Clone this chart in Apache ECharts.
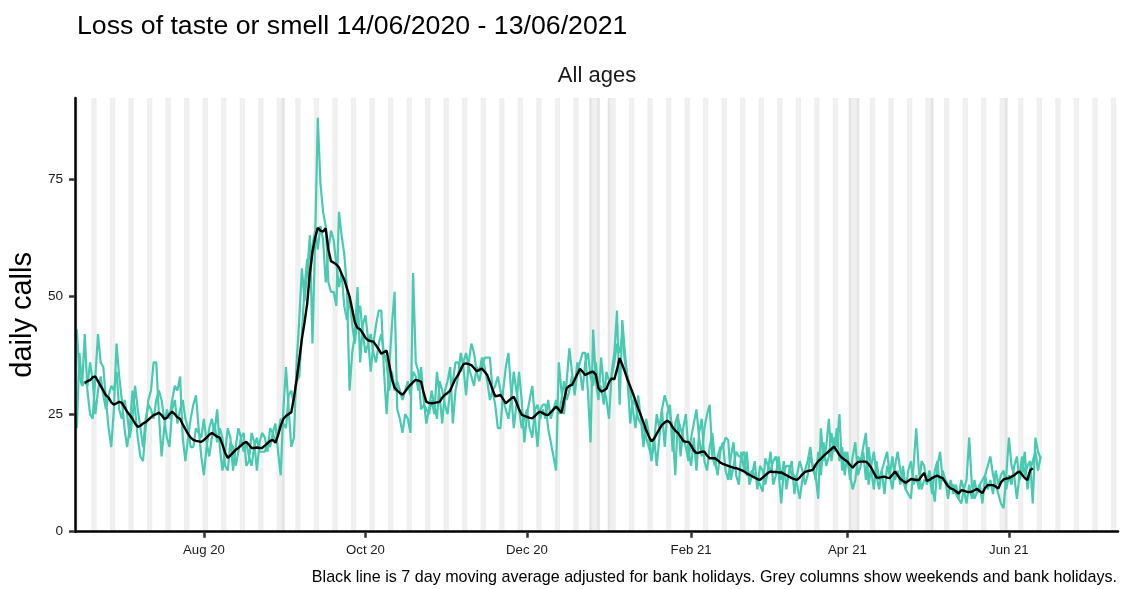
<!DOCTYPE html>
<html><head><meta charset="utf-8">
<script src="https://cdn.jsdelivr.net/npm/echarts@6/dist/echarts.min.js"></script>
<style>html,body{margin:0;padding:0;background:#fff}#c{width:1132px;height:589px}</style>
</head><body><div id="c"></div>
<script>
// Day index 0 = 14/06/2020 (a Sunday)
const tickDays = [48, 109, 170, 232, 291, 352];
const tickLabels = ['Aug 20', 'Oct 20', 'Dec 20', 'Feb 21', 'Apr 21', 'Jun 21'];
const yTicks = [0, 25, 50, 75];
const bankHolidayDays = [78, 194, 197, 201, 292, 295, 323, 351];

const callsA = [
43,33,31,42,30,25,24,33,42,36,35,28,22,18,
26,40,33,28,22,18,22,30,26,20,16,15,22,28,
30,36,36,25,16,22,26,24,28,31,30,33,20,15,
20,24,27,29,22,16,12,18,22,24,21,26,18,13,
17,22,20,13,18,22,20,21,14,15,21,19,13,19,
21,20,17,22,21,23,17,12,26,35,26,18,20,36,
45,56,49,55,63,40,62,88,74,68,65,53,51,51,
48,68,63,59,52,30,38,42,52,36,44,46,41,34,
40,44,47,47,34,25,35,44,51,26,24,21,25,24,
21,55,36,34,26,27,26,25,28,25,34,29,23,30,
32,35,23,30,33,38,35,29,36,40,38,34,32,35,
37,37,37,30,27,22,22,30,35,38,30,22,27,34,
28,19,25,28,31,24,18,26,27,27,22,19,16,13,
36,30,25,32,39,34,29,34,36,38,38,30,19,43,
32,28,37,31,28,24,34,38,47,27,45,38,32,23,
28,27,24,23,22,20,18,16,20,14,20,26,29,27,
25,22,12,24,22,20,18,15,20,23,26,20,16,22,
25,27,16,14,16,18,18,20,19.5,11,14,17,16,16,
17,12,12,13,12,11,10,8.5,15.6,14,13,15,16,13,
6,13,14,14,12,12,10,7,11,13,15,18,13,12,
7,22,15,18,24,15,20,18,25,13,17,15,12,9,
11,16,15,18,21,10,14,17,12,9,13,15,17,12,
9,14,17,13,11,9,8,7,14,22,13,9,11,10.6,
13,10,6.4,14,17,11,11,10,9,10,8,7,6,9,
11,20,10,7,8.5,10,11,12,14,16,12,10,8,6,
5,12,20,14,12,7,12,16,12,14,15,6,20,17,15.6
];

const callsB = [
22,38,31,32,31,36,32,25,30,33,29,26,29,31,
30,34,26,24,28,25,20,24,31,26,22,18,24,27,
26,24,28,30,28,24,20,18,26,28,23,26,28,24,
22,18,18,22,21,20,24,19,16,20,23,19,22,20,
14,13,19,18,14,17,20,17,19,16,14,18,20,17,
17,17,19,18,21,19,21,24,23,22,29,30,27,32,
33,42,52,58,52,61,64,60,65,62,53,60,64,62,
57,52,55,48,45,50,44,40,46,48,42,38,40,42,
38,36,40,42,38,36,30,34,30,32,30,28,30,32,
29,34,33,30,35,28,23,26,30,27,24,32,30,27,
25,30,32,36,36,34,36,38,35,33,31,35,34,37,
35,32,28,30,31,33,30,28,26,24,28,34,30,26,
22,24,26,22,20,26,27,24,26,24,28,24,26,28,
25,28,32,28,30,33,30,36,34,30,36,38,33,31,
36,30,31,27,34,32,33,36,40,38,42,36,33,30,
26,22,29,24,18,24,21,15,19,25,22,26,18,25,
27,17,23,25,16,22,25,17,14,20,13,21,24,15,
13,18,21,15,12,17,19,13,11,16,19,12,10,17,
13,17,10,12,15,9,14,13,10,13,17,10,12,16,
11,15,9,13,15,8,12,15,13,10,12,16,14,11,
17,12,19,14,16,21,17,22,15,18,12,17,11,16,
19,12,14,17,11,18,13,9,15,11,13,8,14,12,
16,11,13,10,14,9,13,15,10,12,9,15,14,10,
12,8,13,15,9,13,11,7,11,8,10,7,11,9,
6,10,7,11,8,10,6,12,9,11,8,13,10,12,
13,9,12,10,14,16,11,13,17,9,13,15,17,13,16
];

const maStartDay = 3;
const movingAvg = [
31.6,32,32.2,32.8,33,32,31,30,29,28.5,
27.5,27,27.3,27.6,27.4,26.5,25.5,24.8,24,23,
22.3,22.5,23,23.3,23.8,24.3,24.8,25,25.3,24.8,
24,24.2,25,25.5,25,24.3,24,22.8,21.8,20.8,
20,19.5,19.3,19.2,19.1,19.5,20,20.6,21,20.6,
20.2,20,18.5,16.8,15.7,16.2,16.8,17.4,17.8,18.3,
18.8,19.1,18.5,17.8,17.8,17.9,17.8,17.8,18.3,18.8,
19.3,19.5,18.9,20.5,22.5,24,24.6,25,25.4,28.5,
32.3,36.5,41,44.5,48.5,55,59.5,62.5,64.6,64,
63.8,64.5,60,57.5,57.2,56.8,56.2,54.8,53.6,51.8,
50,47.3,44.5,43.3,43,42.2,41.2,40.7,40.5,40.4,
39.6,38.8,37.8,38.2,38.5,35.5,32.5,30.6,30,29.5,
29.1,29.8,30.6,31.2,31.8,32.3,32.1,31.9,29.5,27.6,
27.4,27.3,27.4,27.5,27.6,28.5,29.1,29.5,30,31.3,
32.5,33.3,34.5,35.6,35.8,35.6,35.4,34.8,34.1,34.4,
34.7,34,33.3,31.8,30.2,28.8,28.9,29.1,28.2,27.3,
27.8,28.3,28.7,27.5,26,24.9,24.6,24.4,24.2,24.1,
24.6,25.2,25.5,25.2,24.9,24.8,25.4,26,26.6,26,
25.2,28,30.5,31,31.2,32.3,33.5,34.6,34,33.3,
33.6,33.9,34,33.4,30.5,29.8,30,30.4,31.8,32.6,
32.4,34.5,36.9,35.5,34,32.3,30.9,29.4,27.8,26.2,
24.8,23.2,21.6,20.3,19.2,19.8,20.8,21.8,22.7,23.2,
23.6,23.2,22.2,21.5,21,20.2,19.3,19.1,19.1,18.3,
17.3,16.7,16.8,17,17,16.2,15.6,15.6,15.6,15.2,
14.7,14.4,14.2,14,13.8,13.6,13.5,13.3,13.1,12.8,
12.4,12.1,11.8,11.5,11.2,11,11.5,12,12.5,12.8,
12.7,12.7,12.6,12.6,12.3,12,11.7,11.4,11.2,11,
11.5,12.2,12.7,12.9,13,13.2,14.2,15,15.5,16.1,
16.6,17.1,17.6,18.1,17.2,16.3,15.7,15.3,14.9,14.2,
13.6,14.3,14.8,14.9,14.9,14.9,14.4,13.6,12.5,11.5,
11.5,11.6,11.7,11.5,11.4,12.1,12.8,12,11.2,10.8,
10.4,10.8,11.2,11.1,11,11,11.8,12.5,10.8,11,
11.4,11.7,11.9,11.6,11.4,10.5,9.7,9.2,9,8.6,
8.1,8.8,8.7,8.5,8.4,8.5,8.8,9.1,8.6,8.2,
9.3,9.9,9.9,9.9,9.6,9.2,10.5,11.1,11.3,11.4,
11.7,12,12.5,12.8,12.1,11.4,11,13,13.5
];

const FONT = '"Liberation Sans", Arial, sans-serif';
const TEAL = '#48C9B0';
const xMin = -0.68, xMax = 393.2;

// grey columns: weekends (Sat/Sun) and bank holidays, one tile per day
const weekendAreas = [];
for (let d = 0; d <= 392; d++) {
  const wd = d % 7; // 0 = Sunday, 6 = Saturday
  if ((wd === 0 || wd === 6) && bankHolidayDays.indexOf(d) < 0) {
    weekendAreas.push([{ xAxis: d - 0.5 }, { xAxis: d + 0.5 }]);
  }
}
const holidayAreas = bankHolidayDays.map(d => [{ xAxis: d - 0.5 }, { xAxis: d + 0.5 }]);

const dataA = callsA.map((v, i) => [i, v]);
const dataB = callsB.map((v, i) => [i, v]);
const dataMA = movingAvg.map((v, i) => [i + maStartDay, v]);

const chart = echarts.init(document.getElementById('c'), null, { renderer: 'canvas' });
chart.setOption({
  animation: false,
  backgroundColor: '#ffffff',
  title: {
    text: 'Loss of taste or smell 14/06/2020 - 13/06/2021',
    left: 72, top: 8,
    textStyle: { fontFamily: FONT, fontSize: 26.7, fontWeight: 'normal', color: '#000' }
  },
  grid: { left: 75, right: 14, top: 98, bottom: 57.3, containLabel: false },
  xAxis: {
    type: 'value', min: xMin, max: xMax, z: 10,
    splitLine: { show: false },
    axisLine: { show: true, onZero: false, lineStyle: { color: '#000', width: 2.5 } },
    axisTick: { show: true, length: 6, customValues: tickDays, lineStyle: { color: '#333', width: 2.5 } },
    axisLabel: {
      customValues: tickDays, margin: 12,
      fontFamily: FONT, fontSize: 13.2, color: '#1a1a1a',
      formatter: v => { const i = tickDays.indexOf(Math.round(v)); return i >= 0 ? tickLabels[i] : ''; }
    }
  },
  yAxis: {
    type: 'value', min: 0, max: 92.2, z: 10,
    name: 'daily calls', nameLocation: 'middle', nameGap: 23,
    nameTextStyle: { fontFamily: FONT, fontSize: 29, color: '#000' },
    splitLine: { show: false },
    axisLine: { show: true, onZero: false, lineStyle: { color: '#000', width: 2.5 } },
    axisTick: { show: true, length: 6, customValues: yTicks, lineStyle: { color: '#333', width: 2.5 } },
    axisLabel: { customValues: yTicks, margin: 12, fontFamily: FONT, fontSize: 13.6, color: '#1a1a1a' }
  },
  graphic: [
    { type: 'text', x: 597, y: 76, style: { text: 'All ages', font: '22px ' + FONT, fill: '#1a1a1a', textAlign: 'center', textVerticalAlign: 'middle' } },
    { type: 'text', x: 1117, y: 578, style: { text: 'Black line is 7 day moving average adjusted for bank holidays. Grey columns show weekends and bank holidays.', font: '16.1px ' + FONT, fill: '#000', textAlign: 'right', textVerticalAlign: 'middle' } }
  ],
  series: [
    {
      name: 'weekends', type: 'line', data: [], silent: true, z: 1,
      markArea: { silent: true, itemStyle: { color: '#EFEFEF' }, data: weekendAreas }
    },
    {
      name: 'bank holidays', type: 'line', data: [], silent: true, z: 1,
      markArea: { silent: true, itemStyle: { color: '#E4E4E4' }, data: holidayAreas }
    },
    { name: 'calls B', type: 'line', data: dataB, showSymbol: false, z: 2, lineStyle: { color: TEAL, width: 2.2 }, itemStyle: { color: TEAL } },
    { name: 'calls A', type: 'line', data: dataA, showSymbol: false, z: 2, lineStyle: { color: TEAL, width: 2.2 }, itemStyle: { color: TEAL } },
    { name: '7 day moving average', type: 'line', data: dataMA, showSymbol: false, z: 3, lineStyle: { color: '#000', width: 2.4 }, itemStyle: { color: '#000' } }
  ]
});
</script>
</body></html>
